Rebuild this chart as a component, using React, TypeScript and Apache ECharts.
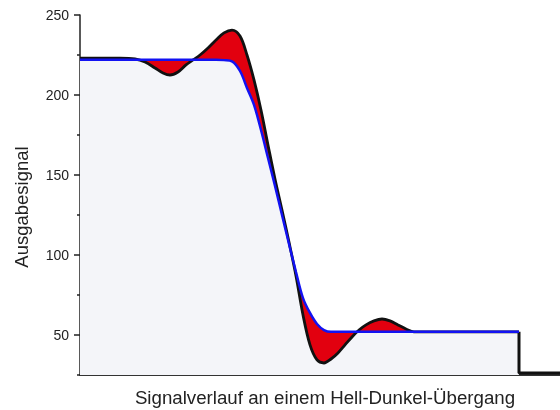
import React, { useEffect, useRef } from "react";
import * as echarts from "echarts";

// horizontal position along the scan line (arbitrary units)
const positions = [
  0, 20, 40, 55, 65, 75, 83, 90, 98, 106,
  113, 120, 128, 136, 144, 152, 160, 167, 174, 181,
  188, 195, 202, 209, 216, 223, 230, 237, 244, 251,
  258, 265, 272, 279, 286, 294, 302, 310, 318, 326,
  334, 360, 390, 420, 439,
];

// ideal (blue) signal
const idealSignal = [
  222, 222, 222, 222, 222, 222, 222, 222, 222, 222,
  222, 222, 222, 222, 221.8, 221, 215, 204.4, 193.8, 178.1,
  160.6, 143.1, 125, 106.9, 89.4, 73.1, 63.8, 56.9, 53.1, 52,
  52, 52, 52, 52, 52, 52, 52, 52, 52, 52,
  52, 52, 52, 52, 52,
];

// real (black) signal with ringing
const realSignal = [
  223, 223, 223, 222.5, 220.6, 216.9, 213.8, 212.5, 214.4, 218.8,
  221.9, 225, 229.4, 234.4, 238.8, 240.6, 236.9, 225, 209.4, 190.6,
  168.8, 147.5, 128.1, 108.1, 86.9, 62.5, 43.8, 34.4, 32.5, 35,
  38.8, 43.8, 48.8, 53.1, 56.3, 58.8, 60, 58.8, 56.3, 53.8,
  52, 52, 52, 52, 52,
];

// tail of the real signal after the edge of the picture
const tailPositions = [439, 439, 480];
const tailSignal = [52, 26.3, 26.3];

const majorTicks = [50, 100, 150, 200, 250];
const minorTicks = [25, 75, 125, 175, 225];

const FONT = '"Liberation Sans", Arial, Helvetica, sans-serif';

export default function App() {
  const ref = useRef<HTMLDivElement>(null);

  useEffect(() => {
    if (!ref.current) return;
    const chart = echarts.init(ref.current, null, { renderer: "svg" });

    const upper = positions.map((x, i) => [x, Math.max(realSignal[i], idealSignal[i])]);
    const lower = positions.map((x, i) => [x, Math.min(realSignal[i], idealSignal[i])]);
    const ideal = positions.map((x, i) => [x, idealSignal[i]]);
    const real = positions.map((x, i) => [x, realSignal[i]]);
    const tail = tailPositions.map((x, i) => [x, tailSignal[i]]);

    const smooth = 0.35;

    chart.setOption({
      animation: false,
      grid: { left: 80, right: 0, top: 15, bottom: 35 },
      xAxis: {
        type: "value",
        min: 0,
        max: 480,
        axisLine: { show: true, onZero: false, lineStyle: { color: "#333", width: 2 } },
        axisTick: { show: false },
        axisLabel: { show: false },
        splitLine: { show: false },
      },
      yAxis: [
        {
          type: "value",
          min: 25,
          max: 250,
          interval: 25,
          position: "left",
          axisLine: { show: true, lineStyle: { color: "#222", width: 1.5 } },
          axisTick: {
            show: true,
            length: 6,
            customValues: majorTicks,
            lineStyle: { color: "#222", width: 1.5 },
          },
          axisLabel: {
            customValues: majorTicks,
            margin: 11,
            fontSize: 14,
            color: "#222",
            fontFamily: FONT,
          },
          splitLine: { show: false },
        },
        {
          type: "value",
          min: 25,
          max: 250,
          interval: 25,
          position: "left",
          axisLine: { show: false },
          axisTick: {
            show: true,
            length: 3,
            customValues: minorTicks,
            lineStyle: { color: "#222", width: 1.5 },
          },
          axisLabel: { show: false },
          splitLine: { show: false },
        },
      ],
      series: [
        {
          type: "line",
          data: upper,
          smooth,
          symbol: "none",
          silent: true,
          lineStyle: { opacity: 0, width: 0 },
          areaStyle: { color: "#e2000f", opacity: 1, origin: "start" },
          z: 1,
        },
        {
          type: "line",
          data: lower,
          smooth,
          symbol: "none",
          silent: true,
          lineStyle: { opacity: 0, width: 0 },
          areaStyle: { color: "#f4f5f9", opacity: 1, origin: "start" },
          z: 2,
        },
        {
          type: "line",
          data: real,
          smooth,
          symbol: "none",
          silent: true,
          lineStyle: { color: "#111", width: 2.8 },
          z: 3,
        },
        {
          type: "line",
          data: tail,
          smooth: false,
          symbol: "none",
          silent: true,
          lineStyle: { color: "#111", width: 3 },
          z: 3,
        },
        {
          type: "line",
          data: ideal,
          smooth,
          symbol: "none",
          silent: true,
          lineStyle: { color: "#1212f2", width: 2.5 },
          z: 4,
        },
      ],
      graphic: [
        {
          type: "text",
          x: 21,
          y: 207,
          rotation: Math.PI / 2,
          style: {
            text: "Ausgabesignal",
            font: `18.5px ${FONT}`,
            fill: "#222",
            textAlign: "center",
            textVerticalAlign: "middle",
          },
        },
        {
          type: "text",
          x: 325,
          y: 397,
          style: {
            text: "Signalverlauf an einem Hell-Dunkel-Übergang",
            font: `18.7px ${FONT}`,
            fill: "#222",
            textAlign: "center",
            textVerticalAlign: "middle",
          },
        },
      ],
    });

    return () => chart.dispose();
  }, []);

  return (
    <div
      ref={ref}
      style={{ position: "fixed", left: 0, top: 0, width: 560, height: 410 }}
    />
  );
}
